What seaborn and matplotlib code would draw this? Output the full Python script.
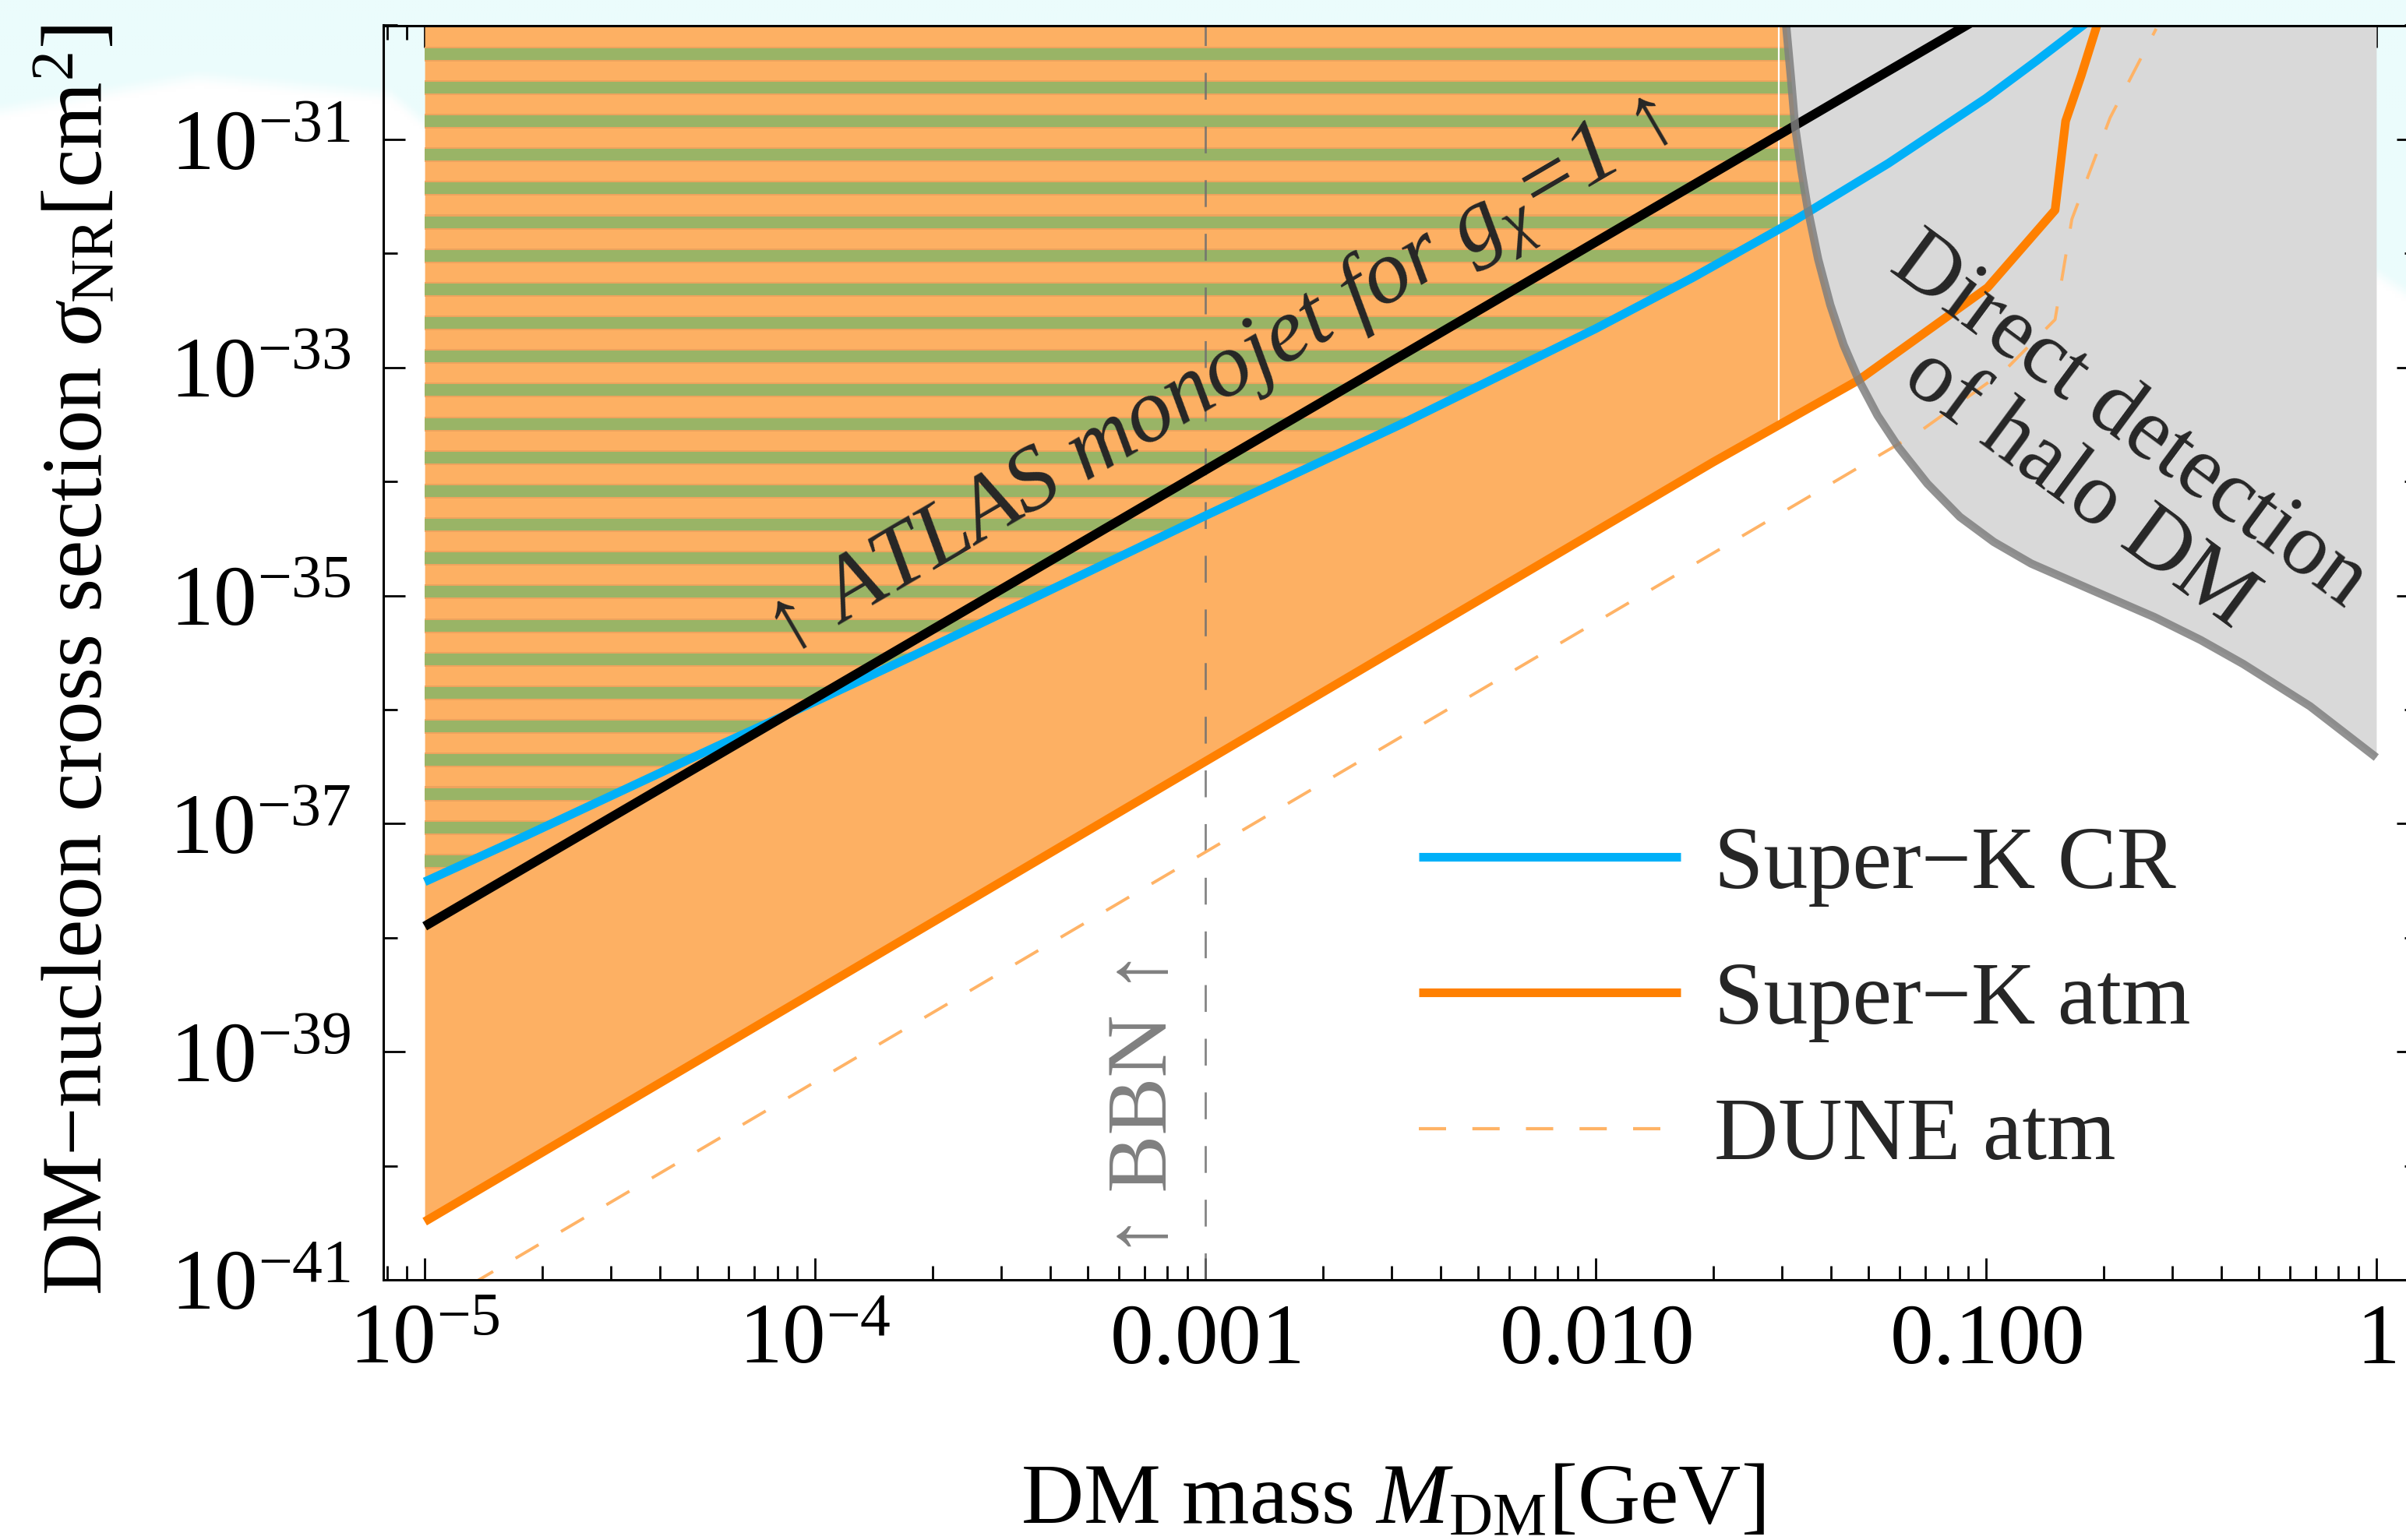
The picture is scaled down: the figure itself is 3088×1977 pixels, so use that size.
import numpy as np
import pandas as pd
import matplotlib
matplotlib.use("Agg")
import matplotlib.pyplot as plt
import seaborn as sns
from matplotlib.patches import Polygon
from matplotlib.lines import Line2D
from matplotlib.ticker import FixedLocator, FixedFormatter, NullFormatter, LogLocator

# ---------------- data (log10 values) ----------------
cr_logm = [-5.0, -4.75, -4.5, -4.25, -4.0, -3.75, -3.5, -3.25, -3.0, -2.75, -2.5,
           -2.25, -2.0, -1.75, -1.5, -1.25, -1.0, -0.87, -0.74]
cr_logsig = [-37.51, -37.12, -36.72, -36.32, -35.93, -35.53, -35.12, -34.71, -34.30,
             -33.90, -33.50, -33.08, -32.66, -32.21, -31.73, -31.21, -30.64, -30.31, -29.97]

atm_logm = [-5.0, -1.699, -1.326, -0.996, -0.823, -0.796, -0.756, -0.713]
atm_logsig = [-40.49, -33.83, -33.11, -32.30, -31.62, -30.84, -30.44, -29.97]

dune_logm = [-5.0, -1.169, -0.953, -0.823, -0.780, -0.682, -0.564]
dune_logsig = [-41.28, -33.56, -33.03, -32.58, -31.70, -30.81, -30.03]

atlas_logm = [-5.0, -1.0]
atlas_logsig = [-37.90, -29.90]

dd_logm = [-1.512, -1.500, -1.489, -1.473, -1.456, -1.430, -1.399, -1.365, -1.326,
           -1.278, -1.224, -1.150, -1.067, -0.980, -0.884, -0.730, -0.568, -0.450,
           -0.341, -0.170, 0.0]
dd_logsig = [-30.00, -30.45, -30.89, -31.27, -31.62, -32.05, -32.45, -32.80, -33.11,
             -33.42, -33.70, -34.02, -34.31, -34.53, -34.72, -34.95, -35.19, -35.39,
             -35.60, -35.97, -36.42]

bbn_mass = 1e-3
atm_seam_mass = 0.0295

xtick_values = [1e-5, 1e-4, 1e-3, 1e-2, 1e-1, 1.0]
xtick_labels = [r"$10^{-5}$", r"$10^{-4}$", r"$0.001$", r"$0.010$", r"$0.100$", r"$1$"]
ytick_values = [1e-41, 1e-39, 1e-37, 1e-35, 1e-33, 1e-31]
ytick_labels = [r"$10^{-41}$", r"$10^{-39}$", r"$10^{-37}$", r"$10^{-35}$", r"$10^{-33}$", r"$10^{-31}$"]
yminor_values = [1e-40, 1e-38, 1e-36, 1e-34, 1e-32, 1e-30]

legend_labels = ["Super\u2212K CR", "Super\u2212K atm", "DUNE atm"]

# ---------------- style ----------------
sns.set_style("ticks")
plt.rcParams["font.family"] = ["Liberation Serif", "DejaVu Serif"]
plt.rcParams["mathtext.fontset"] = "custom"
plt.rcParams["mathtext.rm"] = "Liberation Serif"
plt.rcParams["mathtext.it"] = "Liberation Serif:italic"
plt.rcParams["mathtext.bf"] = "Liberation Serif:bold"
plt.rcParams["axes.unicode_minus"] = True

C_BLUE = "#00B0F8"
C_ORANGE = "#FF8000"
C_FILL = "#FDB063"
C_GREEN = "#99B466"
C_EDGE = "#EDA35D"
C_GRAYFILL = "#D9D9D9"
C_GRAYLINE = "#7F7F7F"
C_DUNE = "#FFB366"

DPI = 200
W, H = 3088, 1977
fig = plt.figure(figsize=(W / DPI, H / DPI), dpi=DPI)
fig.patch.set_facecolor("white")

# ---------------- slide-like background ----------------
bg = fig.add_axes([0, 0, 1, 1])
bg.set_zorder(-5)
sc = 4
hh, ww = H // sc, W // sc
yy = np.arange(hh)[:, None] * sc
bx = [0, 250, 500, 560, 1500, 2500, 3050, 3088]
by = [140, 97, 120, 170, 260, 330, 350, 375]
yb = np.interp(np.arange(ww) * sc, bx, by)[None, :]
t = np.clip((yb - yy) / 20.0 + 0.5, 0, 1).astype(np.float32)
cyan = np.array([235, 252, 252], dtype=np.float32) / 255.0
img = 1.0 - t[..., None] * (1.0 - cyan[None, None, :])
bg.imshow(img, extent=(0, W, H, 0), aspect="auto", interpolation="bilinear")
bg.axis("off")

# ---------------- main axes ----------------
ax = fig.add_axes([492 / W, 1 - 1643 / H, 2612 / W, 1610.5 / H])
ax.set_facecolor("none")
ax.set_xscale("log")
ax.set_yscale("log")
ax.set_xlim(10 ** -5.106, 10 ** 0.108)
ax.set_ylim(1e-41, 1e-30)

M_cr, S_cr = 10 ** np.array(cr_logm), 10 ** np.array(cr_logsig)
M_atm, S_atm = 10 ** np.array(atm_logm), 10 ** np.array(atm_logsig)
M_du, S_du = 10 ** np.array(dune_logm), 10 ** np.array(dune_logsig)
M_at, S_at = 10 ** np.array(atlas_logm), 10 ** np.array(atlas_logsig)
M_dd, S_dd = 10 ** np.array(dd_logm), 10 ** np.array(dd_logsig)

ytop = 1e-30

# orange excluded region
ax.fill_between(M_atm, S_atm, ytop, color=C_FILL, lw=0, zorder=1)

# striped region above Super-K CR curve
clip = Polygon(list(zip(M_cr, S_cr)) + [(M_cr[-1], ytop), (M_cr[0], ytop)],
               closed=True, transform=ax.transData, fill=False, lw=0)
ax.add_patch(clip)
top0, period, width, edge = -30.199, 0.2949, 0.1024, 0.014
k = 0
while True:
    hi = top0 - k * period
    lo = hi - width
    if hi < -41:
        break
    s1 = ax.axhspan(10 ** (lo - edge), 10 ** (hi + edge), color=C_EDGE, lw=0, zorder=1.4)
    s1.set_clip_path(clip)
    s2 = ax.axhspan(10 ** lo, 10 ** hi, color=C_GREEN, lw=0, zorder=1.5)
    s2.set_clip_path(clip)
    k += 1

# white seam in the atm region
ax.axvline(atm_seam_mass, color="white", lw=0.8, zorder=1.8)

# BBN line
ax.plot([bbn_mass, bbn_mass], [1e-41, ytop], color="#707070", lw=1.0,
        dashes=(12.4, 12.4), alpha=0.85, zorder=2)

# direct detection region
ax.fill_between(M_dd, S_dd, ytop, color=C_GRAYFILL, lw=0, zorder=2.5)

# curves
ax.plot(M_du, S_du, color=C_DUNE, lw=1.4, dashes=(8.8, 8.6), zorder=3.5)
df_atm = pd.DataFrame({"M": M_atm, "sigma": S_atm})
df_cr = pd.DataFrame({"M": M_cr, "sigma": S_cr})
df_at = pd.DataFrame({"M": M_at, "sigma": S_at})
df_dd = pd.DataFrame({"M": M_dd, "sigma": S_dd})
sns.lineplot(data=df_atm, x="M", y="sigma", ax=ax, color=C_ORANGE, linewidth=4.0,
             estimator=None, sort=False, legend=False, zorder=4, solid_capstyle="butt")
sns.lineplot(data=df_cr, x="M", y="sigma", ax=ax, color=C_BLUE, linewidth=4.0,
             estimator=None, sort=False, legend=False, zorder=4.2, solid_capstyle="butt")
sns.lineplot(data=df_at, x="M", y="sigma", ax=ax, color="black", linewidth=4.3,
             estimator=None, sort=False, legend=False, zorder=4.4, solid_capstyle="butt")
sns.lineplot(data=df_dd, x="M", y="sigma", ax=ax, color=C_GRAYLINE, linewidth=3.8,
             alpha=0.85, estimator=None, sort=False, legend=False, zorder=6,
             solid_capstyle="butt")

ax.set_xlim(10 ** -5.106, 10 ** 0.108)
ax.set_ylim(1e-41, 1e-30)

# ---------------- ticks & spines ----------------
ax.xaxis.set_major_locator(FixedLocator(xtick_values))
ax.xaxis.set_major_formatter(FixedFormatter(xtick_labels))
ax.xaxis.set_minor_locator(LogLocator(base=10, subs=np.arange(2, 10), numticks=30))
ax.xaxis.set_minor_formatter(NullFormatter())
ax.yaxis.set_major_locator(FixedLocator(ytick_values))
ax.yaxis.set_major_formatter(FixedFormatter(ytick_labels))
ax.yaxis.set_minor_locator(FixedLocator(yminor_values))
ax.yaxis.set_minor_formatter(NullFormatter())
ax.tick_params(which="both", direction="in", top=True, right=True,
               color="black", width=1.0, labelcolor="black")
ax.tick_params(which="major", length=10, labelsize=40)
ax.tick_params(which="minor", length=6.5)
ax.tick_params(axis="x", which="major", pad=11)
ax.tick_params(axis="y", which="major", pad=15)
for s in ax.spines.values():
    s.set_color("black")
    s.set_linewidth(1.1)
    s.set_zorder(10)

# ---------------- labels ----------------
ax.set_xlabel("DM mass $M_{\\mathrm{DM}}$[GeV]", fontsize=40, color="black")
ax.xaxis.set_label_coords(0.496, -0.147)
ax.set_ylabel("DM\u2212nucleon cross section $\\sigma_{\\mathrm{NR}}$[cm$^{2}$]",
              fontsize=40, color="black")
ax.yaxis.set_label_coords(-0.1294, 0.494)

# ATLAS annotation along the line
p1 = ax.transData.transform((M_at[0], S_at[0]))
p2 = ax.transData.transform((M_at[-1], S_at[-1]))
ang = np.degrees(np.arctan2(p2[1] - p1[1], p2[0] - p1[0]))
ax.text(10 ** -2.96, 10 ** -33.12, "\u2191 ATLAS monojet for $g_{\\chi}$=1 \u2191",
        rotation=ang, rotation_mode="anchor", ha="center", va="center",
        fontsize=42, style="italic", zorder=8)

ax.text(10 ** -0.697, 10 ** -33.77, "Direct detection\nof halo DM",
        rotation=-36.5, rotation_mode="anchor", ha="center", va="center",
        multialignment="center", linespacing=1.05, fontsize=41, zorder=8)

ax.text(10 ** -3.153, 10 ** -39.456, "\u2191 BBN \u2191", rotation=90,
        rotation_mode="anchor", ha="center", va="center", color="#808080",
        fontsize=40, zorder=8)

# ---------------- legend ----------------
handles = [Line2D([], [], color=C_BLUE, lw=4.0, solid_capstyle="butt"),
           Line2D([], [], color=C_ORANGE, lw=4.0, solid_capstyle="butt"),
           Line2D([], [], color=C_DUNE, lw=1.5, dashes=(8.4, 8.1))]
ax.legend(handles, legend_labels, loc="upper left", bbox_to_anchor=(0.5088, 0.362),
          frameon=False, fontsize=41, handlelength=2.95, handletextpad=0.38,
          labelspacing=0.62, borderaxespad=0, borderpad=0)

fig.savefig("out.png", dpi=DPI)
